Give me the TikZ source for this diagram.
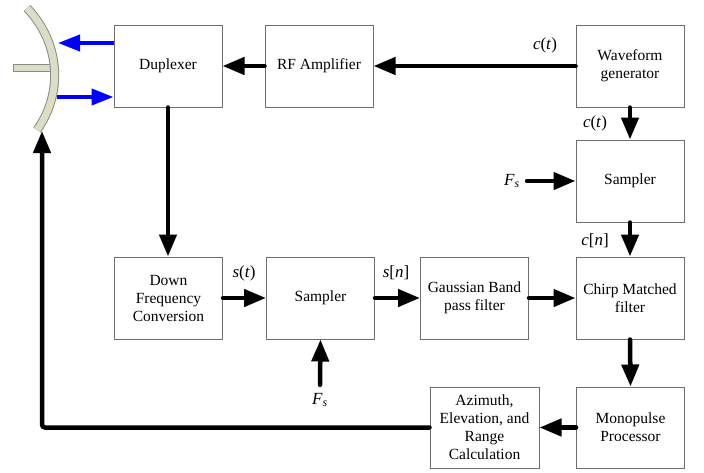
\documentclass[tikz,border=0pt]{standalone}
\usepackage{fontspec}
\setmainfont{Liberation Serif}
\usetikzlibrary{arrows.meta}
\definecolor{antfill}{RGB}{218,221,200}
\definecolor{antedge}{RGB}{140,140,128}
\definecolor{boxedge}{RGB}{110,110,110}
\begin{document}
\begin{tikzpicture}[x=1pt,y=-1pt,
 blk/.style={draw=boxedge, line width=1pt, fill=white, minimum width=108pt, minimum height=82pt, inner sep=0pt, align=center, font=\fontsize{15.5}{18}\selectfont},
 ar/.style={line width=4.5pt, line cap=round, -{Triangle[length=22pt,width=17pt]}},
 bar/.style={line width=4pt, blue, -{Triangle[length=22pt,width=16pt]}},
 lbl/.style={font=\fontsize{17}{20}\selectfont, inner sep=0pt}]
\useasboundingbox (0,0) rectangle (704,472);
% antenna
\draw[draw=antedge, fill=antfill, line width=1pt] (13,64) rectangle (50,71);
\draw[line width=9pt, antedge] (27,8) .. controls (62,45) and (62,95) .. (37,130);
\draw[line width=7pt, antfill] (27,8) .. controls (62,45) and (62,95) .. (37,130);
\coordinate (ant1) at (58,43);
\coordinate (ant2) at (57,97);
\coordinate (antb) at (42,131);
% blocks
\node[blk] (dup) at (168,66) {Duplexer};
\node[blk] (rf) at (319,66) {RF Amplifier};
\node[blk] (wg) at (630,66) {Waveform\\generator};
\node[blk] (samp1) at (630,181) {Sampler};
\node[blk] (chirp) at (630,298) {Chirp Matched\\filter};
\node[blk] (gauss) at (474.5,298) {Gaussian Band\\pass filter};
\node[blk] (samp2) at (320.5,298) {Sampler};
\node[blk] (down) at (168.5,298) {Down\\Frequency\\Conversion};
\node[blk, minimum height=81pt] (mono) at (630.5,427.5) {Monopulse\\Processor};
\node[blk, minimum height=81pt, minimum width=109pt] (azi) at (484.5,427.5) {Azimuth,\\Elevation, and\\Range\\Calculation};
% labels
\node[lbl] (ct1) at (545,45) {\textit{c}(\textit{t})};
\node[lbl] (ct2) at (595,123) {\textit{c}(\textit{t})};
\node[lbl] (cn) at (595,241) {\textit{c}[\textit{n}]};
\node[lbl] (st) at (244,273) {\textit{s}(\textit{t})};
\node[lbl] (sn) at (396,273) {\textit{s}[\textit{n}]};
\node[lbl] (fs1) at (512,181) {\textit{F}\textsubscript{\textit{s}}};
\node[lbl] (fs2) at (320,400) {\textit{F}\textsubscript{\textit{s}}};
% connectors
\draw[ar] (wg.west) -- (rf.east);
\draw[ar] (rf.west) -- (dup.east);
\draw[ar] (dup.south) -- (dup.south |- down.north);
\draw[ar] (wg.south) -- (samp1.north);
\draw[ar] ([xshift=7pt]fs1.east) -- (samp1.west);
\draw[ar] (samp1.south) -- (chirp.north);
\draw[ar] (down.east) -- (samp2.west);
\draw[ar] (samp2.east) -- (gauss.west);
\draw[ar] (gauss.east) -- (chirp.west);
\draw[ar] ([yshift=8pt]fs2.north) -- (samp2.south);
\draw[ar] (chirp.south) -- (mono.north);
\draw[ar] (mono.west) -- (azi.east);
\draw[ar, rounded corners=3pt] (azi.west) -| (antb);
\draw[bar] (dup.west |- ant1) -- (ant1);
\draw[bar] (ant2) -- (dup.west |- ant2);
\end{tikzpicture}
\end{document}
